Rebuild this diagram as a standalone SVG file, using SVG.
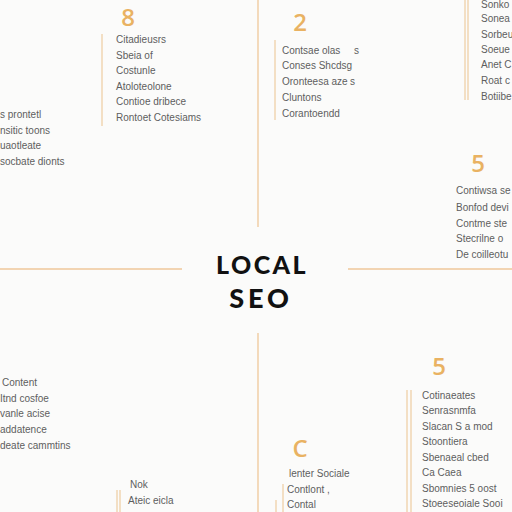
<svg xmlns="http://www.w3.org/2000/svg" width="512" height="512" viewBox="0 0 512 512">
<style>
.t{font-family:"Liberation Sans","DejaVu Sans",sans-serif;font-size:10px;fill:#5e5e5e}
.n{font-family:"Open Sans","Liberation Sans",sans-serif;font-size:24px;font-weight:600;fill:#e9b262}
.ax{stroke:#efc79a;stroke-width:1.3}
.bar{stroke:#efcfa8;stroke-width:1.3}
.h{font-family:"Lato","Open Sans",sans-serif;font-weight:900;fill:#111}
</style>
<rect width="512" height="512" fill="#fbfbfa"/>
<g id="connectors">
<line class="ax" x1="258" y1="0" x2="258" y2="227"/>
<line class="ax" x1="258" y1="333" x2="258" y2="512"/>
<line class="ax" x1="0" y1="269" x2="182" y2="269"/>
<line class="ax" x1="348" y1="269" x2="512" y2="269"/>
</g>
<g id="center">
<text class="h" x="262" y="274" font-size="25" letter-spacing="2.4" text-anchor="middle">LOCAL</text>
<text class="h" x="261" y="308" font-size="27" letter-spacing="3.8" text-anchor="middle">SEO</text>
</g>
<g id="block8">
<text class="n" x="128" y="26" font-size="21" text-anchor="middle">8</text>
<line class="bar" x1="102" y1="34" x2="102" y2="126"/>
<text class="t" x="116" y="43">Citadieusrs</text>
<text class="t" x="116" y="59">Sbeia of</text>
<text class="t" x="116" y="74">Costunle</text>
<text class="t" x="116" y="90">Atoloteolone</text>
<text class="t" x="116" y="105">Contioe dribece</text>
<text class="t" x="116" y="121">Rontoet Cotesiams</text>
</g>
<g id="block2">
<text class="n" x="300" y="31" text-anchor="middle">2</text>
<line class="bar" x1="275" y1="40" x2="275" y2="120"/>
<text class="t" x="282" y="54">Contsae olas</text>
<text class="t" x="354" y="54">s</text>
<text class="t" x="282" y="69">Conses Shcdsg</text>
<text class="t" x="282" y="85">Oronteesa aze</text>
<text class="t" x="350" y="85">s</text>
<text class="t" x="282" y="101">Cluntons</text>
<text class="t" x="282" y="117">Corantoendd</text>
</g>
<g id="block3">
<line class="bar" x1="465" y1="0" x2="465" y2="100"/>
<line class="bar" x1="468" y1="0" x2="468" y2="100"/>
<text class="t" x="481" y="8">Sonko</text>
<text class="t" x="481" y="22">Sonea</text>
<text class="t" x="481" y="38">Sorbeu</text>
<text class="t" x="481" y="53">Soeue</text>
<text class="t" x="481" y="68">Anet C</text>
<text class="t" x="481" y="84">Roat c</text>
<text class="t" x="481" y="100">Botiibe</text>
</g>
<g id="blockLeft">
<text class="t" x="0" y="118">s prontetl</text>
<text class="t" x="0" y="134">nsitic toons</text>
<text class="t" x="0" y="149">uaotleate</text>
<text class="t" x="0" y="165">socbate dionts</text>
</g>
<g id="block5a">
<text class="n" x="478" y="172" text-anchor="middle">5</text>
<text class="t" x="456" y="194">Contiwsa se</text>
<text class="t" x="456" y="211">Bonfod devi</text>
<text class="t" x="456" y="227">Contme ste</text>
<text class="t" x="456" y="242">Stecrilne o</text>
<text class="t" x="456" y="258">De coilleotu</text>
</g>
<g id="blockBottomLeft">
<text class="t" x="2" y="386">Content</text>
<text class="t" x="0" y="402">Itnd cosfoe</text>
<text class="t" x="0" y="417">vanle acise</text>
<text class="t" x="0" y="433">addatence</text>
<text class="t" x="0" y="449">deate cammtins</text>
</g>
<g id="block5b">
<text class="n" x="439" y="375" text-anchor="middle">5</text>
<line class="bar" x1="407" y1="390" x2="407" y2="512"/>
<line class="bar" x1="411" y1="390" x2="411" y2="512"/>
<text class="t" x="422" y="399">Cotinaeates</text>
<text class="t" x="422" y="414">Senrasnmfa</text>
<text class="t" x="422" y="430">Slacan S a mod</text>
<text class="t" x="422" y="445">Stoontiera</text>
<text class="t" x="422" y="461">Sbenaeal cbed</text>
<text class="t" x="422" y="476">Ca Caea</text>
<text class="t" x="422" y="492">Sbomnies 5 oost</text>
<text class="t" x="422" y="507">Stoeeseoiale Sooi</text>
</g>
<g id="blockC">
<text class="n" x="300" y="457" text-anchor="middle">C</text>
<line class="bar" x1="283" y1="484" x2="283" y2="512"/>
<line class="bar" x1="276" y1="500" x2="276" y2="512"/>
<text class="t" x="289" y="477">lenter Sociale</text>
<text class="t" x="287" y="493">Contlont ,</text>
<text class="t" x="287" y="508">Contal</text>
</g>
<g id="blockNok">
<line class="bar" x1="117" y1="490" x2="117" y2="512"/>
<line class="bar" x1="120" y1="490" x2="120" y2="512"/>
<text class="t" x="130" y="488">Nok</text>
<text class="t" x="128" y="504">Ateic eicla</text>
</g>
</svg>
